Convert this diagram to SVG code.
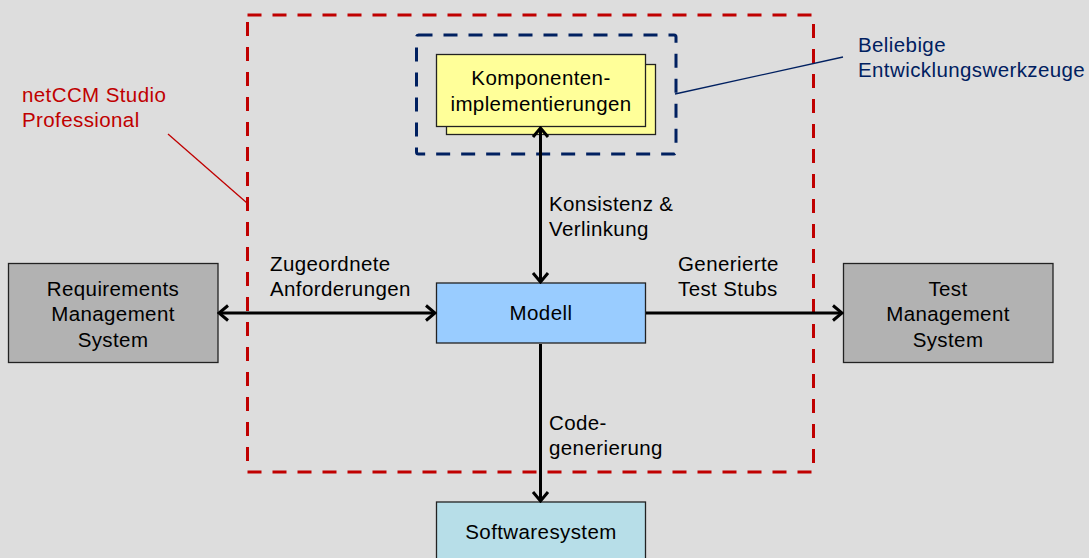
<svg xmlns="http://www.w3.org/2000/svg" width="1089" height="558" viewBox="0 0 1089 558">
  <style>
    text { font-family: "Liberation Sans", Arial, sans-serif; font-size: 20.5px; letter-spacing: 0.4px; fill: #000; }
    .c { text-anchor: middle; }
    .red { fill: #c00000; }
    .navy { fill: #002060; }
    .box { stroke: #222; stroke-width: 1.3; }
    .conn { stroke: #000; stroke-width: 3; fill: none; }
  </style>
  <defs>
    <marker id="arr" markerUnits="userSpaceOnUse" viewBox="-12 -10 14 20" refX="0" refY="0" markerWidth="14" markerHeight="20" orient="auto-start-reverse">
      <polyline points="-9,-7.5 0,0 -9,7.5" fill="none" stroke="#000" stroke-width="3" stroke-linejoin="miter"/>
    </marker>
  </defs>

  <rect width="1089" height="558" fill="#dddddd"/>

  <!-- tool boundary -->
  <g id="studio-boundary">
    <rect x="247.5" y="15" width="566" height="457" fill="none" stroke="#c00000" stroke-width="3" stroke-dasharray="14 11"/>
    <line x1="168" y1="134" x2="247" y2="203" stroke="#c00000" stroke-width="1.3"/>
    <text class="red" x="22" y="102">netCCM Studio</text>
    <text class="red" x="22" y="127">Professional</text>
  </g>

  <!-- external tools boundary -->
  <g id="tools-boundary">
    <rect x="416.5" y="35" width="259.5" height="119" rx="2" fill="none" stroke="#002060" stroke-width="3" stroke-dasharray="14 11"/>
    <line x1="675" y1="94" x2="843" y2="57" stroke="#002060" stroke-width="1.3"/>
    <text class="navy" x="858" y="52">Beliebige</text>
    <text class="navy" x="858" y="77">Entwicklungswerkzeuge</text>
  </g>

  <g id="komponenten">
    <rect class="box" x="446.5" y="64.5" width="209" height="70" fill="#ffff99"/>
    <rect class="box" x="436.5" y="54.5" width="209" height="72" fill="#ffff99"/>
    <text class="c" x="541" y="85">Komponenten-</text>
    <text class="c" x="541" y="111">implementierungen</text>
  </g>

  <g id="requirements">
    <rect class="box" x="8.5" y="263.5" width="209.5" height="99" fill="#b2b2b2"/>
    <text class="c" x="113" y="296">Requirements</text>
    <text class="c" x="113" y="321">Management</text>
    <text class="c" x="113" y="347">System</text>
  </g>

  <g id="modell">
    <rect class="box" x="436.5" y="283" width="209" height="60" fill="#99ccff"/>
    <text class="c" x="541" y="320">Modell</text>
  </g>

  <g id="testmgmt">
    <rect class="box" x="843.5" y="263.5" width="209.5" height="99" fill="#b2b2b2"/>
    <text class="c" x="948" y="296">Test</text>
    <text class="c" x="948" y="321">Management</text>
    <text class="c" x="948" y="347">System</text>
  </g>

  <g id="softwaresystem">
    <rect class="box" x="436.5" y="502" width="209" height="80" fill="#b7dee8"/>
    <text class="c" x="541" y="539">Softwaresystem</text>
  </g>

  <g id="connectors">
    <line class="conn" x1="219" y1="313" x2="435" y2="313" marker-start="url(#arr)" marker-end="url(#arr)"/>
    <line class="conn" x1="646" y1="313" x2="842" y2="313" marker-end="url(#arr)"/>
    <line class="conn" x1="540.5" y1="128" x2="540.5" y2="282" marker-start="url(#arr)" marker-end="url(#arr)"/>
    <line class="conn" x1="540.5" y1="344" x2="540.5" y2="501" marker-end="url(#arr)"/>
    <text x="270" y="271">Zugeordnete</text>
    <text x="270" y="296">Anforderungen</text>
    <text x="678" y="271">Generierte</text>
    <text x="678" y="296">Test Stubs</text>
    <text x="549" y="211">Konsistenz &amp;</text>
    <text x="549" y="236">Verlinkung</text>
    <text x="549" y="430">Code-</text>
    <text x="549" y="455">generierung</text>
  </g>
</svg>
